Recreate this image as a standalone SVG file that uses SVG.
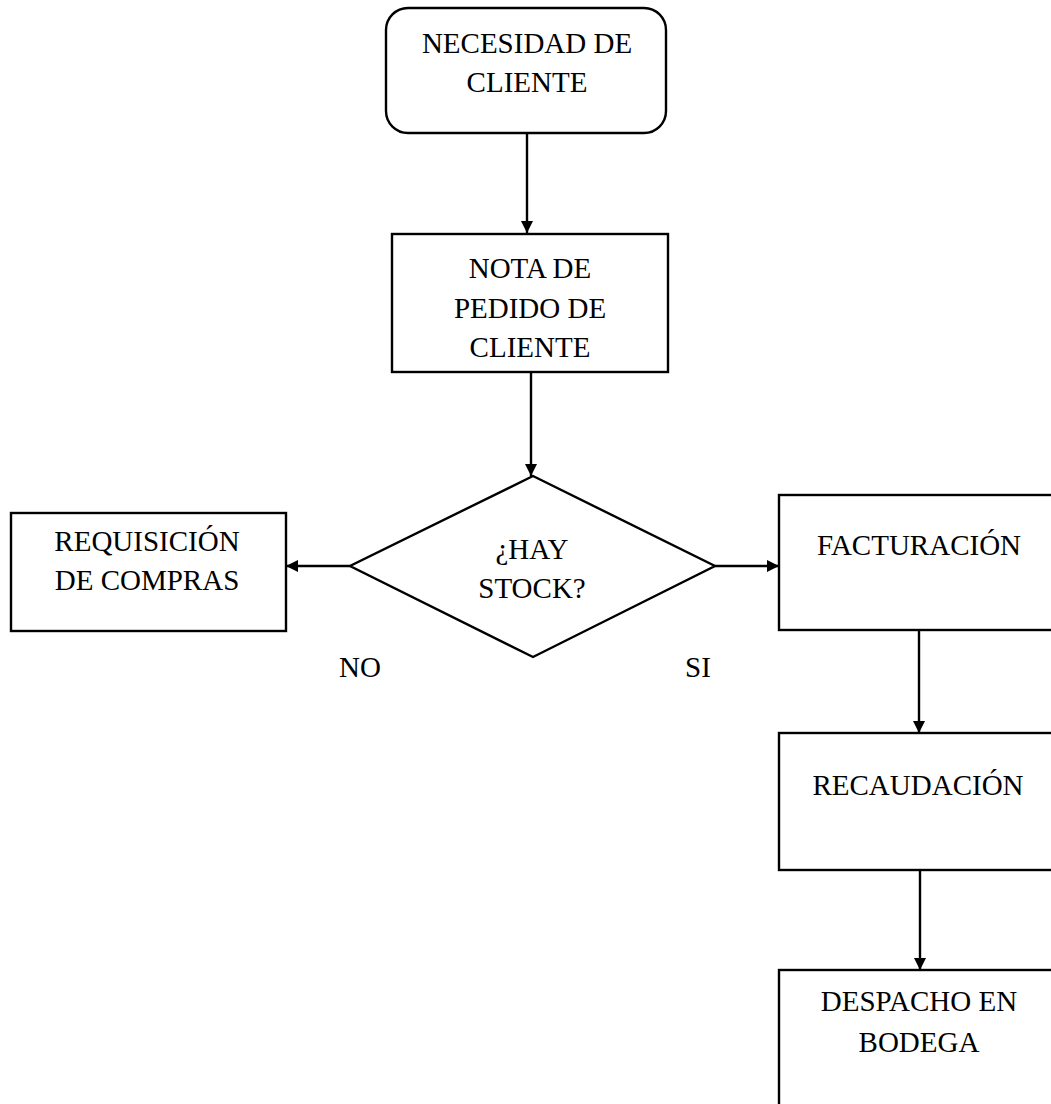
<svg xmlns="http://www.w3.org/2000/svg" width="1051" height="1104" viewBox="0 0 1051 1104">
<style>
.box{fill:#fff;stroke:#000;stroke-width:2.4}
.t{font-family:"Liberation Serif","Times New Roman",serif;font-size:29px;fill:#000;text-anchor:middle}
.c{stroke:#000;stroke-width:2.4;fill:none;marker-end:url(#ah)}
</style>
<defs>
<marker id="ah" viewBox="0 0 10 10" refX="10" refY="5" markerWidth="5.2" markerHeight="5.2" markerUnits="strokeWidth" orient="auto">
<path d="M0,0 L10,5 L0,10 z" fill="#000"/>
</marker>
</defs>
<rect width="1051" height="1104" fill="#fff"/>
<g id="connectors">
<line class="c" x1="527" y1="133" x2="527" y2="233"/>
<line class="c" x1="531" y1="372" x2="531" y2="476"/>
<line class="c" x1="350" y1="566" x2="286" y2="566"/>
<line class="c" x1="715" y1="566" x2="779" y2="566"/>
<line class="c" x1="919" y1="630" x2="919" y2="733"/>
<line class="c" x1="920" y1="870" x2="920" y2="970"/>
</g>
<g id="n1">
<rect class="box" x="386" y="8" width="280" height="125" rx="22"/>
<text class="t" x="527" y="53">NECESIDAD DE</text>
<text class="t" x="527" y="92">CLIENTE</text>
</g>
<g id="n2">
<rect class="box" x="392" y="234" width="276" height="138"/>
<text class="t" x="530" y="278">NOTA DE</text>
<text class="t" x="530" y="318">PEDIDO DE</text>
<text class="t" x="530" y="357">CLIENTE</text>
</g>
<g id="n3">
<polygon class="box" points="533,476 715,566 533,657 350,566"/>
<text class="t" x="532" y="559">¿HAY</text>
<text class="t" x="532" y="598">STOCK?</text>
</g>
<g id="n4">
<rect class="box" x="11" y="513" width="275" height="118"/>
<text class="t" x="147" y="551">REQUISICIÓN</text>
<text class="t" x="147" y="590">DE COMPRAS</text>
</g>
<g id="n5">
<rect class="box" x="779" y="495" width="290" height="135"/>
<text class="t" x="919" y="555">FACTURACIÓN</text>
</g>
<g id="n6">
<rect class="box" x="779" y="733" width="290" height="137"/>
<text class="t" x="918" y="795">RECAUDACIÓN</text>
</g>
<g id="n7">
<rect class="box" x="779" y="970" width="290" height="150"/>
<text class="t" x="919" y="1011">DESPACHO EN</text>
<text class="t" x="919" y="1052">BODEGA</text>
</g>
<g id="labels">
<text class="t" x="360" y="677">NO</text>
<text class="t" x="698" y="677">SI</text>
</g>
</svg>
